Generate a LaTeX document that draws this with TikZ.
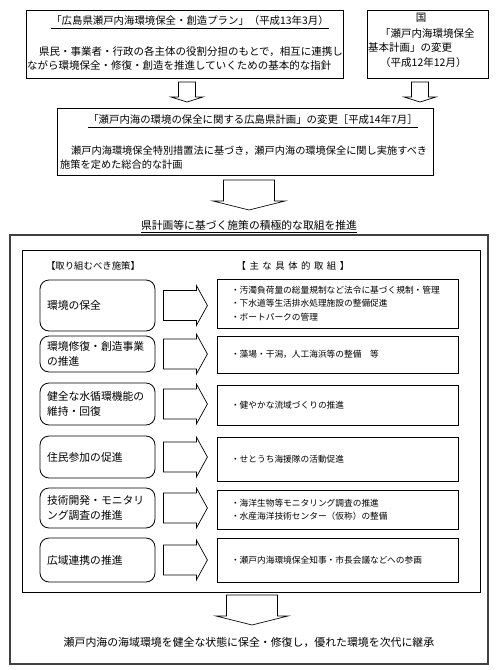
\documentclass[tikz,border=0pt]{standalone}
\usepackage{fontspec}
\setmainfont{Noto Sans CJK JP}
\begin{document}
\begin{tikzpicture}[x=1pt,y=-1pt,
  box/.style={draw=black,line width=0.8pt,inner sep=0pt},
  rbox/.style={draw=black,line width=0.8pt,rounded corners=9pt,inner ysep=0pt,inner xsep=7pt,align=left,text width=101pt,minimum width=115pt,font=\fontsize{10.8}{14.5}\selectfont},
  cbox/.style={draw=black,line width=0.8pt,inner ysep=0pt,inner xsep=14pt,align=left,text width=213pt,minimum width=241pt,font=\fontsize{8.7}{13.5}\selectfont},
  txt/.style={inner sep=0pt,font=\fontsize{10.5}{14.5}\selectfont},
  btxt/.style={inner sep=0pt,font=\fontsize{10.4}{14}\selectfont},
  htxt/.style={inner sep=0pt,font=\fontsize{10.8}{14}\selectfont},
  hdtxt/.style={inner sep=0pt,font=\fontsize{9.4}{12}\selectfont},
  uline/.style={line width=0.6pt},
  blk/.style={draw=black,line width=0.7pt,fill=white},
  rarr/.pic={\draw[blk] (0,-15) -- (33,-15) -- (33,-20) -- (44,0) -- (33,20) -- (33,15) -- (0,15) -- cycle;},
  sdown/.pic={\draw[blk] (-8.5,0) -- (-8.5,15) -- (-16,15) -- (0,20) -- (16,15) -- (8.5,15) -- (8.5,0) -- cycle;},
  bdown/.pic={\draw[blk] (-25.5,0) -- (-25.5,21) -- (-36,21) -- (0,30) -- (36,21) -- (25.5,21) -- (25.5,0) -- cycle;}
]
\useasboundingbox[fill=white] (0,0) rectangle (500,670);

% top boxes
\node[box,minimum width=317pt,minimum height=68pt] (b1) at (184.5,44) {};
\node[btxt] (t1) at (190,21) {「広島県瀬戸内海環境保全・創造プラン」（平成13年3月）};
\draw[uline] ([yshift=-3pt]t1.base west) -- ([yshift=-3pt]t1.base east);
\node[txt,anchor=north west,align=left] (t1b) at (27,46) {\hspace*{12pt}県民・事業者・行政の各主体の役割分担のもとで，相互に連携し\\ながら環境保全・修復・創造を推進していくための基本的な指針};

\node[box,minimum width=121pt,minimum height=68pt] (b2) at (427.5,44) {};
\node[txt] (t2a) at (421,18) {国};
\node[txt,anchor=north west,align=left] (t2b) at (368,28) {\hspace*{12pt}「瀬戸内海環境保全\\基本計画」の変更\\\hspace*{12pt}（平成12年12月）};

% arrows to box 3
\pic at (187,82) {sdown};
\pic at (420,82) {sdown};

% box 3
\node[box,minimum width=376pt,minimum height=67pt] (b3) at (245,141.5) {};
\node[btxt] (t3) at (253,120) {「瀬戸内海の環境の保全に関する広島県計画」の変更［平成14年7月］};
\draw[uline] ([yshift=-3pt]t3.base west) -- ([yshift=-3pt]t3.base east);
\node[inner sep=0pt,anchor=north west,align=left,font=\fontsize{10.2}{14}\selectfont] (t3b) at (60,146) {\hspace*{11pt}瀬戸内海環境保全特別措置法に基づき，瀬戸内海の環境保全に関し実施すべき\\施策を定めた総合的な計画};

\pic at (249,180) {bdown};

\node[htxt] (h1) at (249,225) {県計画等に基づく施策の積極的な取組を推進};
\draw[uline] ([yshift=-3pt]h1.base west) -- ([yshift=-3pt]h1.base east);

% outer and inner frames
\node[draw=black!75,line width=1.6pt,minimum width=478pt,minimum height=429pt,inner sep=0pt] (outer) at (249,449.5) {};
\node[box,minimum width=458pt,minimum height=342pt] (inner) at (251,421) {};

\node[hdtxt] (hl) at (93,266) {【取り組むべき施策】};
\node[hdtxt] (hr) at (293,266) {【\kern3.5pt 主\kern3.5pt な\kern3.5pt 具\kern3.5pt 体\kern3.5pt 的\kern3.5pt 取\kern3.5pt 組\kern3.5pt 】};

% rows
\node[rbox,minimum height=51pt] (l1) at (97.5,305.5) {環境の保全};
\node[cbox,minimum height=49pt] (r1) at (337.5,303.5) {・汚濁負荷量の総量規制など法令に基づく規制・管理\\・下水道等生活排水処理施設の整備促進\\・ボートパークの管理};
\pic at ([xshift=8pt]l1.east) {rarr};

\node[rbox,minimum height=36pt] (l2) at (97.5,354) {環境修復・創造事業\\の推進};
\node[cbox,minimum height=37pt] (r2) at (337.5,354.5) {・藻場・干潟，人工海浜等の整備　等};
\pic at ([xshift=8pt]l2.east) {rarr};

\node[rbox,minimum height=42pt] (l3) at (97.5,404) {健全な水循環機能の\\維持・回復};
\node[cbox,minimum height=40pt] (r3) at (337.5,405) {・健やかな流域づくりの推進};
\pic at ([xshift=8pt]l3.east) {rarr};

\node[rbox,minimum height=42pt] (l4) at (97.5,457) {住民参加の促進};
\node[cbox,minimum height=44pt] (r4) at (337.5,459) {・せとうち海援隊の活動促進};
\pic at ([xshift=8pt]l4.east) {rarr};

\node[rbox,minimum height=40pt] (l5) at (97.5,508) {技術開発・モニタリ\\ング調査の推進};
\node[cbox,minimum height=39pt] (r5) at (337.5,509.5) {・海洋生物等モニタリング調査の推進\\・水産海洋技術センター（仮称）の整備};
\pic at ([xshift=8pt]l5.east) {rarr};

\node[rbox,minimum height=44pt] (l6) at (97.5,560) {広域連携の推進};
\node[cbox,minimum height=44pt] (r6) at (337.5,560) {・瀬戸内海環境保全知事・市長会議などへの参画};
\pic at ([xshift=8pt]l6.east) {rarr};

% bottom
\pic at (252,595) {bdown};
\node[inner sep=0pt,font=\fontsize{10.9}{14}\selectfont] (bt) at (249,642) {瀬戸内海の海域環境を健全な状態に保全・修復し，優れた環境を次代に継承};
\end{tikzpicture}
\end{document}
